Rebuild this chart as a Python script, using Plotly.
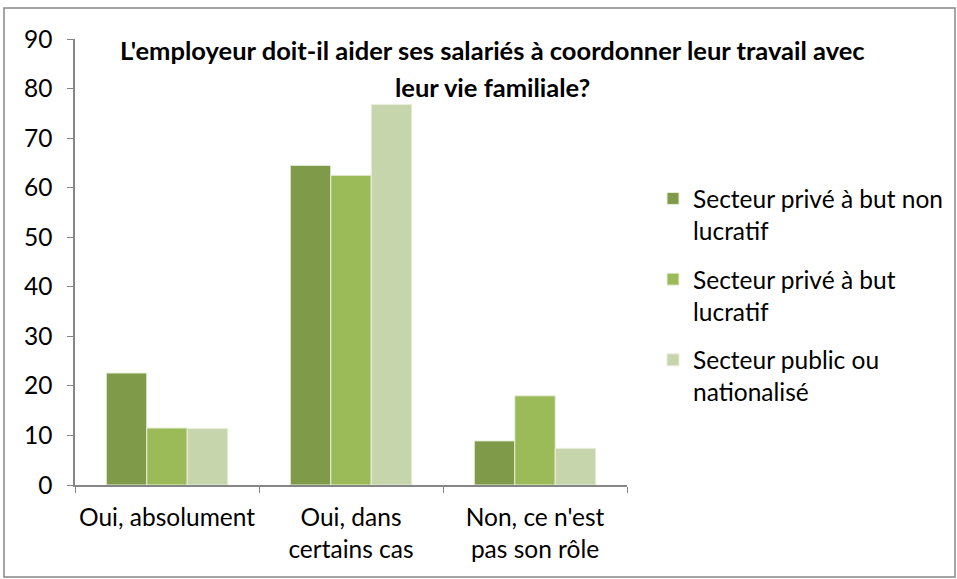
import plotly.graph_objects as go

categories = ["Oui, absolument", "Oui, dans<br>certains cas", "Non, ce n'est<br>pas son rôle"]
series_names = ["Secteur privé à but non<br>lucratif", "Secteur privé à but<br>lucratif", "Secteur public ou<br>nationalisé"]
non_lucratif = [22.6, 64.5, 8.9]
lucratif = [11.5, 62.5, 18.0]
public = [11.4, 76.8, 7.4]
colors = ["#7F9A48", "#9BBB59", "#C6D5AC"]
y_ticks = [0, 10, 20, 30, 40, 50, 60, 70, 80, 90]

FONT = "Lato"
FS = 24.5
FT = 25.5
W, H = 957, 579
L, R, T, B = 75, 330, 39, 94
pw, ph = W - L - R, H - T - B

def px(x):
    return (x - L) / pw

def py(y):
    return 1 - (y - T) / ph

fig = go.Figure()
for i, (name, vals, col) in enumerate(zip(series_names, [non_lucratif, lucratif, public], colors)):
    fig.add_trace(go.Bar(x=categories, y=vals, name=name, legendgroup=f"g{i}",
                         marker=dict(color=col, line=dict(color="#E8EFDC", width=1))))

fig.update_layout(
    width=W, height=H,
    margin=dict(l=L, r=R, t=T, b=B, autoexpand=False),
    paper_bgcolor="white", plot_bgcolor="white",
    barmode="group", bargap=0.34, bargroupgap=0,
    font=dict(family=FONT, size=FS, color="#000000"),
    showlegend=True,
    legend=dict(x=px(653), y=py(176), xanchor="left", yanchor="top",
                font=dict(family=FONT, size=FS, color="#000000"),
                valign="top", tracegroupgap=14, itemwidth=30,
                bgcolor="rgba(0,0,0,0)"),
    xaxis=dict(showline=True, linecolor="#868686", linewidth=1.5,
               ticks="outside", tickson="boundaries", ticklen=6, tickcolor="#868686",
               ticklabelstandoff=10, tickangle=0, automargin=False,
               tickfont=dict(family=FONT, size=FS), showgrid=False),
    yaxis=dict(range=[0, 90], tickvals=y_ticks, showline=True, linecolor="#868686",
               linewidth=1.5, ticks="outside", ticklen=6, tickcolor="#868686",
               ticklabelstandoff=10, automargin=False,
               tickfont=dict(family=FONT, size=FS), showgrid=False, zeroline=False),
    shapes=[dict(type="rect", xref="paper", yref="paper",
                 x0=px(4), x1=px(955), y0=py(577), y1=py(8),
                 line=dict(color="#868686", width=1.5), fillcolor="rgba(0,0,0,0)", layer="below")],
    annotations=[
        dict(text="<b>L'employeur doit-il aider ses salariés à coordonner leur travail avec</b>",
             xref="paper", yref="paper", x=px(492), y=py(50), xanchor="center", yanchor="middle",
             showarrow=False, font=dict(family=FONT, size=FT, color="#000000")),
        dict(text="<b>leur vie familiale?</b>",
             xref="paper", yref="paper", x=px(492), y=py(87), xanchor="center", yanchor="middle",
             showarrow=False, font=dict(family=FONT, size=FT, color="#000000")),
    ],
)

fig.write_html("out.html", config={"displayModeBar": False},
               post_script="document.body.style.margin='0';")
